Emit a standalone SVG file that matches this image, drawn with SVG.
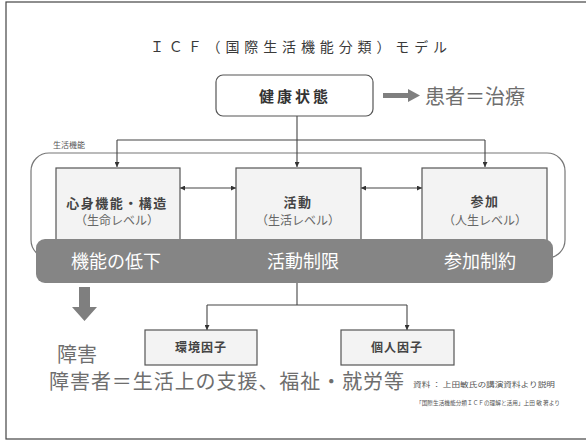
<svg xmlns="http://www.w3.org/2000/svg" width="586" height="441" viewBox="0 0 586 441">
<style>
  .jp { font-family: "Noto Sans CJK JP", "Noto Sans", sans-serif; }
  .box { fill: #f3f3f3; stroke: #555; stroke-width: 1.2; }
  .line { fill: none; stroke: #444; stroke-width: 1.1; }
  .boxt { font-size: 13px; font-weight: bold; fill: #444; text-anchor: middle; }
  .boxs { font-size: 12px; fill: #666; text-anchor: middle; }
  .note { font-size: 20px; fill: #6e6e6e; }
  .bart { font-size: 18px; fill: #ffffff; text-anchor: middle; }
  .garrow { fill: #7f7f7f; }
</style>
<defs>
  <marker id="ah" viewBox="0 0 6 6" refX="6" refY="3" markerWidth="5" markerHeight="5" orient="auto-start-reverse" markerUnits="userSpaceOnUse">
    <path d="M0,0 L6,3 L0,6 z" fill="#333"/>
  </marker>
</defs>
<rect width="586" height="441" fill="#ffffff"/>
<rect x="6" y="2" width="590" height="437" fill="none" stroke="#444" stroke-width="1.2"/>

<g id="title">
  <text class="jp" x="150" y="52" font-size="14" fill="#3a3a3a" textLength="297" lengthAdjust="spacing">ＩＣＦ（国際生活機能分類）モデル</text>
</g>

<g id="group-container">
  <rect x="31" y="153" width="534" height="105" rx="18" fill="none" stroke="#777" stroke-width="1.2"/>
  <text class="jp" x="53" y="148" font-size="8" fill="#555">生活機能</text>
</g>

<g id="connectors">
  <path class="line" d="M297,116 V140"/>
  <path class="line" d="M117,140 H485"/>
  <path class="line" d="M117,140 V167" marker-end="url(#ah)"/>
  <path class="line" d="M297,140 V167" marker-end="url(#ah)"/>
  <path class="line" d="M485,140 V167" marker-end="url(#ah)"/>
  <path class="line" d="M180,188 H236" marker-start="url(#ah)" marker-end="url(#ah)"/>
  <path class="line" d="M361,188 H422" marker-start="url(#ah)" marker-end="url(#ah)"/>
  <path class="line" d="M297,283 V305"/>
  <path class="line" d="M207,305 H407"/>
  <path class="line" d="M207,305 V330" marker-end="url(#ah)"/>
  <path class="line" d="M407,305 V330" marker-end="url(#ah)"/>
  <path class="garrow" d="M383,93 H408 V89 L420,95.5 L408,102 V98 H383 z"/>
  <path class="garrow" d="M79,287 H90 V307 H97 L84.5,321 L72,307 H79 z"/>
</g>

<g id="health">
  <rect x="216" y="75" width="157" height="41" rx="7" fill="#ffffff" stroke="#555" stroke-width="1.2"/>
  <text class="jp" x="295" y="102" font-size="15" font-weight="bold" fill="#333" text-anchor="middle" letter-spacing="3">健康状態</text>
</g>

<g id="patient">
  <text class="jp note" x="425" y="104" font-size="21">患者＝治療</text>
</g>

<g id="body">
  <rect class="box" x="56" y="168" width="124" height="80"/>
  <text class="jp boxt" x="117" y="208" letter-spacing="1.5">心身機能・構造</text>
  <text class="jp boxs" x="117" y="225">（生命レベル）</text>
</g>

<g id="activity">
  <rect class="box" x="236" y="168" width="125" height="80"/>
  <text class="jp boxt" x="298" y="207" letter-spacing="1.5">活動</text>
  <text class="jp boxs" x="298" y="225">（生活レベル）</text>
</g>

<g id="participation">
  <rect class="box" x="422" y="168" width="125" height="80"/>
  <text class="jp boxt" x="485" y="206" letter-spacing="1.5">参加</text>
  <text class="jp boxs" x="485" y="225">（人生レベル）</text>
</g>

<g id="bar">
  <rect x="36" y="239" width="517" height="44" rx="9" fill="#858585"/>
  <text class="jp bart" x="116" y="268">機能の低下</text>
  <text class="jp bart" x="303" y="268">活動制限</text>
  <text class="jp bart" x="480" y="268">参加制約</text>
</g>

<g id="environment">
  <rect class="box" x="145" y="330" width="112" height="35"/>
  <text class="jp" x="201" y="352" font-size="12" font-weight="bold" fill="#444" text-anchor="middle" letter-spacing="1">環境因子</text>
</g>

<g id="personal">
  <rect class="box" x="341" y="330" width="113" height="35"/>
  <text class="jp" x="397" y="352" font-size="12" font-weight="bold" fill="#444" text-anchor="middle" letter-spacing="1">個人因子</text>
</g>

<g id="disability">
  <text class="jp note" x="57" y="362">障害</text>
  <text class="jp note" x="49" y="389" textLength="355" lengthAdjust="spacing">障害者＝生活上の支援、福祉・就労等</text>
</g>

<g id="source">
  <text class="jp" x="413" y="387" font-size="7" fill="#555" textLength="142" lengthAdjust="spacingAndGlyphs">資料 ： 上田敏氏の講演資料より説明</text>
  <text class="jp" x="416" y="405" font-size="6" fill="#555" textLength="144" lengthAdjust="spacingAndGlyphs">「国際生活機能分類ＩＣＦの理解と活用」上田 敏 著より</text>
</g>
</svg>
